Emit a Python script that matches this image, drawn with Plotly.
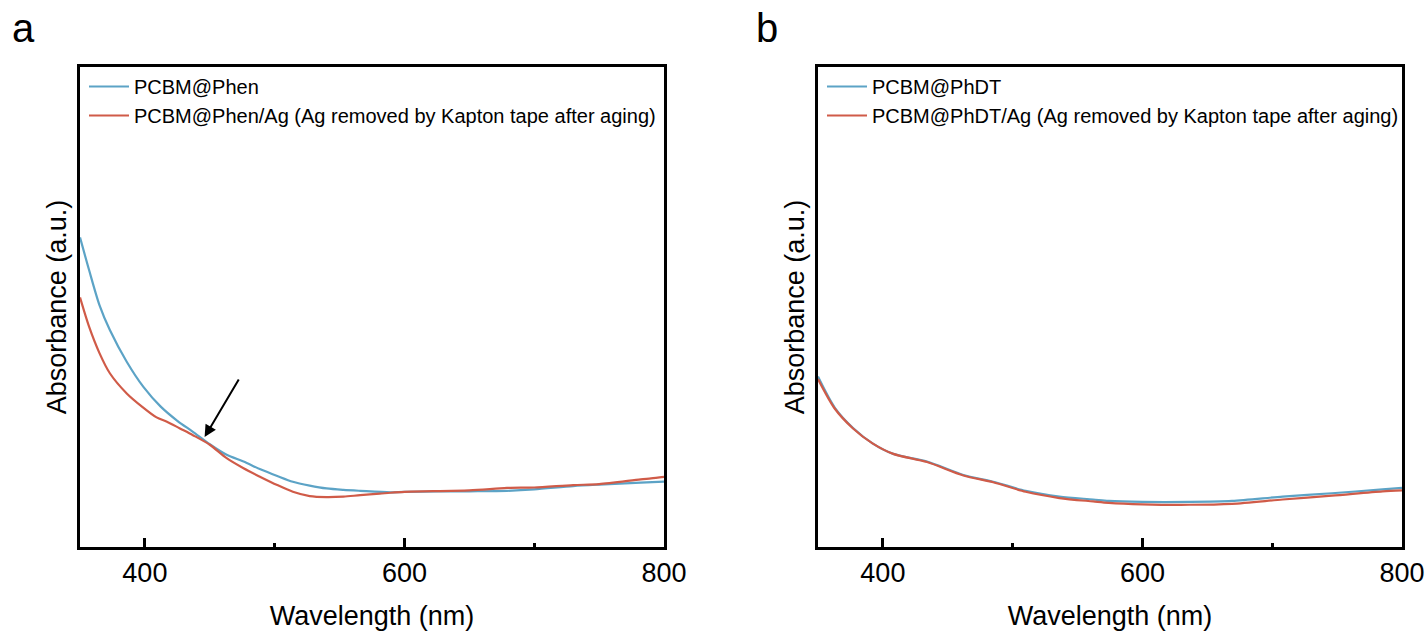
import plotly.graph_objects as go

# ---------------- data ----------------
# Panel a
wl_a_phen = [350, 357, 365, 373, 386, 399, 412, 425, 437, 450, 463, 476, 489,
             502, 514, 527, 540, 553, 566, 589, 600, 650, 679, 700, 730, 750, 782, 800]
abs_a_phen = [0.645, 0.577, 0.504, 0.452, 0.386, 0.333, 0.293, 0.263, 0.240,
              0.214, 0.192, 0.178, 0.162, 0.148, 0.136, 0.128, 0.122, 0.119, 0.117,
              0.114, 0.115, 0.116, 0.117, 0.120, 0.127, 0.130, 0.134, 0.136]

wl_a_phen_ag = [350, 357, 365, 373, 386, 398, 409, 417, 427, 437, 450, 463, 476,
                489, 502, 514, 527, 540, 553, 566, 581, 589, 600, 650, 679, 700, 730,
                750, 782, 790, 800]
abs_a_phen_ag = [0.520, 0.459, 0.404, 0.362, 0.320, 0.292, 0.270, 0.261, 0.247,
                 0.233, 0.213, 0.185, 0.164, 0.146, 0.129, 0.115, 0.106, 0.104, 0.105,
                 0.108, 0.111, 0.113, 0.115, 0.118, 0.123, 0.124, 0.129, 0.131, 0.141,
                 0.143, 0.146]

# Panel b
wl_b = [350, 363, 377, 392, 408, 434, 462, 485, 510, 536, 562, 574, 600, 636, 669,
        708, 746, 785, 800]
abs_b_phdt = [0.355, 0.290, 0.248, 0.216, 0.194, 0.178, 0.150, 0.136, 0.117, 0.105,
              0.099, 0.096, 0.094, 0.094, 0.096, 0.105, 0.112, 0.120, 0.123]
abs_b_phdt_ag = [0.350, 0.288, 0.247, 0.216, 0.194, 0.177, 0.149, 0.135, 0.115, 0.102,
                 0.095, 0.092, 0.089, 0.088, 0.090, 0.099, 0.107, 0.116, 0.118]

names_a = ["PCBM@Phen", "PCBM@Phen/Ag (Ag removed by Kapton tape after aging)"]
names_b = ["PCBM@PhDT", "PCBM@PhDT/Ag (Ag removed by Kapton tape after aging)"]

# arrow in panel a (tail -> head), data coordinates
arrow_tail = (473, 0.352)
arrow_head = (446, 0.229)

BLUE = "#5CA3C6"
RED = "#D05B48"
FONT = "Liberation Sans, Arial, sans-serif"

fig = go.Figure()

fig.add_trace(go.Scatter(x=wl_a_phen, y=abs_a_phen, mode="lines", name=names_a[0],
                         line=dict(color=BLUE, width=2.2, shape="spline", smoothing=0.8),
                         xaxis="x", yaxis="y", legend="legend"))
fig.add_trace(go.Scatter(x=wl_a_phen_ag, y=abs_a_phen_ag, mode="lines", name=names_a[1],
                         line=dict(color=RED, width=2.2, shape="spline", smoothing=0.8),
                         xaxis="x", yaxis="y", legend="legend"))
fig.add_trace(go.Scatter(x=wl_b, y=abs_b_phdt, mode="lines", name=names_b[0],
                         line=dict(color=BLUE, width=2.2, shape="spline", smoothing=0.8),
                         xaxis="x2", yaxis="y2", legend="legend2"))
fig.add_trace(go.Scatter(x=wl_b, y=abs_b_phdt_ag, mode="lines", name=names_b[1],
                         line=dict(color=RED, width=2.2, shape="spline", smoothing=0.8),
                         xaxis="x2", yaxis="y2", legend="legend2"))

W, H = 1427, 631
ML, MR, MT, MB = 80, 25, 67, 84
pw = W - ML - MR

def px_x(p):
    return (p - ML) / pw

xaxis_common = dict(
    range=[350, 800], tickvals=[400, 600, 800], ticks="inside", ticklen=9, tickwidth=2.5,
    tickcolor="black", showline=True, linecolor="black", linewidth=3, mirror=True,
    showgrid=False, zeroline=False, tickfont=dict(size=27, color="black", family=FONT),
    ticklabelstandoff=0,
    minor=dict(tickvals=[500, 700], ticks="inside", ticklen=4, tickwidth=2.5, tickcolor="black"),
    title=dict(text="Wavelength (nm)", font=dict(size=27, color="black", family=FONT), standoff=22),
)
yaxis_common = dict(
    range=[0, 1], showticklabels=False, ticks="", showline=True, linecolor="black",
    linewidth=3, mirror=True, showgrid=False, zeroline=False,
    title=dict(text="Absorbance (a.u.)", font=dict(size=27, color="black", family=FONT), standoff=3),
)

fig.update_layout(
    width=W, height=H,
    margin=dict(l=ML, r=MR, t=MT, b=MB, autoexpand=False),
    paper_bgcolor="white", plot_bgcolor="white",
    font=dict(family=FONT, color="black"),
    xaxis=dict(domain=[0, px_x(664)], anchor="y", **xaxis_common),
    yaxis=dict(domain=[0, 1], anchor="x", **yaxis_common),
    xaxis2=dict(domain=[px_x(818), 1.0], anchor="y2", **xaxis_common),
    yaxis2=dict(domain=[0, 1], anchor="x2", **yaxis_common),
    legend=dict(x=px_x(84), y=1.0, xanchor="left", yanchor="top",
                bgcolor="rgba(0,0,0,0)", font=dict(size=20, color="black", family=FONT),
                tracegroupgap=0, itemwidth=40),
    legend2=dict(x=px_x(822), y=1.0, xanchor="left", yanchor="top",
                 bgcolor="rgba(0,0,0,0)", font=dict(size=20, color="black", family=FONT),
                 tracegroupgap=0, itemwidth=40),
    showlegend=True,
)

fig.add_annotation(x=arrow_head[0], y=arrow_head[1], ax=arrow_tail[0], ay=arrow_tail[1],
                   xref="x", yref="y", axref="x", ayref="y", showarrow=True,
                   arrowhead=2, arrowsize=1.2, arrowwidth=2, arrowcolor="black", text="")

fig.add_annotation(x=px_x(23), y=1 + (MT - 28) / (H - MT - MB), xref="paper", yref="paper",
                   text="a", showarrow=False, font=dict(size=40, color="black", family=FONT),
                   xanchor="center", yanchor="middle")
fig.add_annotation(x=px_x(767), y=1 + (MT - 28) / (H - MT - MB), xref="paper", yref="paper",
                   text="b", showarrow=False, font=dict(size=40, color="black", family=FONT),
                   xanchor="center", yanchor="middle")

fig.write_html("out.html")
